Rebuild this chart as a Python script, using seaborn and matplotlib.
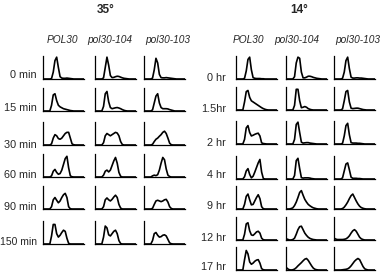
import numpy as np
import pandas as pd
import matplotlib
matplotlib.use("Agg")
import matplotlib.pyplot as plt
import seaborn as sns

sns.set_theme(style="white")
plt.rcParams['font.family'] = ['Liberation Sans', 'DejaVu Sans']

# ---------------- data ----------------
strains = ["POL30", "pol30-104", "pol30-103"]
channels = list(range(25))  # DNA content channel (binned)

times_35 = ["0 min", "15 min", "30 min", "60 min", "90 min", "150 min"]
times_14 = ["0 hr", "1.5hr", "2 hr", "4 hr", "9 hr", "12 hr", "17 hr"]

# 35 degrees: each row = [POL30, pol30-104, pol30-103]
h35_0min = [
    [0,0,0,0,0,0.02,0.3,0.8,0.95,0.5,0.1,0.04,0.03,0.03,0.04,0.03,0.02,0.01,0,0,0,0,0,0,0],
    [0,0,0,0,0,0.05,0.5,0.95,0.6,0.15,0.06,0.07,0.1,0.12,0.11,0.08,0.05,0.03,0.02,0.01,0,0,0,0,0],
    [0,0,0,0,0,0.04,0.4,0.9,0.7,0.2,0.06,0.05,0.05,0.06,0.05,0.04,0.03,0.02,0.01,0,0,0,0,0,0],
]
h35_15min = [
    [0,0,0,0,0,0.25,0.7,0.75,0.45,0.25,0.18,0.14,0.1,0.08,0.06,0.04,0.02,0.01,0,0,0,0,0,0,0],
    [0,0,0,0,0,0.2,0.75,0.85,0.4,0.15,0.1,0.12,0.14,0.15,0.13,0.1,0.06,0.03,0.01,0,0,0,0,0,0],
    [0,0,0,0,0,0.05,0.35,0.65,0.75,0.35,0.15,0.1,0.1,0.1,0.09,0.06,0.04,0.02,0,0,0,0,0,0,0],
]
h35_30min = [
    [0,0,0,0,0,0.05,0.3,0.45,0.4,0.28,0.25,0.3,0.4,0.5,0.55,0.55,0.3,0.05,0.01,0,0,0,0,0,0],
    [0,0,0,0,0,0.1,0.4,0.5,0.45,0.4,0.45,0.5,0.55,0.52,0.4,0.15,0.02,0,0,0,0,0,0,0,0],
    [0,0,0,0,0,0.03,0.15,0.25,0.3,0.38,0.45,0.55,0.6,0.5,0.3,0.08,0.01,0,0,0,0,0,0,0,0],
]
h35_60min = [
    [0,0,0,0,0,0.05,0.25,0.33,0.2,0.12,0.15,0.3,0.55,0.8,0.9,0.4,0.05,0.01,0,0,0,0,0,0,0],
    [0,0,0,0,0,0.08,0.25,0.3,0.22,0.3,0.5,0.7,0.85,0.6,0.2,0.03,0,0,0,0,0,0,0,0,0],
    [0,0,0,0,0,0.05,0.08,0.06,0.1,0.3,0.6,0.85,0.75,0.35,0.08,0.02,0,0,0,0,0,0,0,0,0],
]
h35_90min = [
    [0,0,0,0,0,0.1,0.4,0.5,0.38,0.27,0.35,0.5,0.62,0.68,0.5,0.1,0.01,0,0,0,0,0,0,0,0],
    [0,0,0,0,0,0.1,0.4,0.48,0.4,0.35,0.42,0.52,0.6,0.5,0.2,0.04,0,0,0,0,0,0,0,0,0],
    [0,0,0,0,0,0.03,0.2,0.35,0.38,0.35,0.32,0.35,0.4,0.42,0.3,0.1,0.02,0,0,0,0,0,0,0,0],
]
h35_150min = [
    [0,0,0,0,0,0.35,0.85,0.85,0.45,0.3,0.38,0.5,0.6,0.55,0.25,0.03,0,0,0,0,0,0,0,0,0],
    [0,0,0,0,0,0.3,0.78,0.7,0.4,0.35,0.45,0.55,0.6,0.45,0.15,0.02,0,0,0,0,0,0,0,0,0],
    [0,0,0,0,0,0.15,0.45,0.5,0.38,0.3,0.32,0.38,0.4,0.35,0.2,0.05,0.01,0,0,0,0,0,0,0,0],
]

# 14 degrees
h14_0hr = [
    [0,0,0,0,0,0.03,0.35,0.85,0.95,0.4,0.06,0.03,0.02,0.02,0.02,0.01,0.01,0,0,0,0,0,0,0,0],
    [0,0,0,0,0,0.1,0.7,0.95,0.9,0.3,0.05,0.05,0.08,0.12,0.12,0.1,0.07,0.05,0.03,0.02,0.01,0,0,0,0],
    [0,0,0,0,0,0.03,0.3,0.8,0.95,0.45,0.08,0.04,0.04,0.05,0.05,0.04,0.04,0.03,0.02,0.01,0,0,0,0,0],
]
h14_15hr = [
    [0,0,0,0,0,0.35,0.8,0.85,0.55,0.4,0.35,0.3,0.25,0.2,0.15,0.1,0.06,0.03,0.01,0,0,0,0,0,0],
    [0,0,0,0,0,0.2,0.9,0.9,0.4,0.1,0.12,0.15,0.12,0.06,0.03,0.01,0,0,0,0,0,0,0,0,0],
    [0,0,0,0,0,0.05,0.4,0.8,0.85,0.35,0.08,0.06,0.07,0.08,0.08,0.06,0.04,0.02,0.01,0,0,0,0,0,0],
]
h14_2hr = [
    [0,0,0,0,0,0.2,0.7,0.8,0.5,0.35,0.38,0.42,0.45,0.47,0.35,0.05,0.02,0.01,0,0,0,0,0,0,0],
    [0,0,0,0,0,0.2,0.85,0.95,0.5,0.08,0.04,0.05,0.06,0.06,0.04,0.03,0.02,0.01,0,0,0,0,0,0,0],
    [0,0,0,0,0,0.03,0.35,0.8,0.9,0.4,0.06,0.04,0.04,0.04,0.03,0.03,0.02,0.01,0,0,0,0,0,0,0],
]
h14_4hr = [
    [0,0,0,0,0,0.1,0.35,0.45,0.2,0.05,0.12,0.3,0.5,0.7,0.85,0.3,0.02,0,0,0,0,0,0,0,0],
    [0,0,0,0,0,0.15,0.8,0.9,0.45,0.06,0.04,0.05,0.05,0.05,0.04,0.02,0.01,0,0,0,0,0,0,0,0],
    [0,0,0,0,0,0.05,0.35,0.65,0.7,0.4,0.08,0.03,0.03,0.03,0.02,0.02,0.01,0,0,0,0,0,0,0,0],
]
h14_9hr = [
    [0,0,0,0,0,0.2,0.55,0.65,0.4,0.18,0.2,0.35,0.5,0.62,0.45,0.1,0.01,0,0,0,0,0,0,0,0],
    [0,0,0,0.02,0.05,0.15,0.3,0.5,0.72,0.8,0.6,0.42,0.3,0.2,0.14,0.09,0.05,0.03,0.01,0,0,0,0,0,0],
    [0,0,0,0,0,0.02,0.08,0.18,0.3,0.45,0.58,0.65,0.5,0.35,0.22,0.12,0.06,0.03,0.01,0,0,0,0,0,0],
]
h14_12hr = [
    [0,0,0,0,0,0.25,0.7,0.75,0.4,0.22,0.2,0.27,0.35,0.38,0.3,0.08,0.01,0,0,0,0,0,0,0,0],
    [0.05,0.03,0,0,0.02,0.08,0.25,0.45,0.58,0.6,0.45,0.3,0.2,0.12,0.07,0.04,0.02,0.01,0,0,0,0,0,0,0],
    [0.08,0.04,0.02,0.02,0.02,0.02,0.03,0.05,0.1,0.18,0.3,0.4,0.45,0.38,0.25,0.12,0.05,0.02,0,0,0,0,0,0,0],
]
h14_17hr = [
    [0,0,0,0,0,0.45,0.85,0.7,0.35,0.25,0.3,0.38,0.43,0.45,0.3,0.06,0.01,0,0,0,0,0,0,0,0],
    [0.12,0.05,0.01,0,0.01,0.04,0.1,0.18,0.25,0.32,0.4,0.47,0.5,0.42,0.3,0.18,0.08,0.03,0.01,0,0,0,0,0,0],
    [0,0,0,0,0,0.01,0.02,0.03,0.05,0.1,0.18,0.28,0.38,0.45,0.5,0.45,0.3,0.15,0.05,0.02,0,0,0,0,0],
]

rows_35 = [h35_0min, h35_15min, h35_30min, h35_60min, h35_90min, h35_150min]
rows_14 = [h14_0hr, h14_15hr, h14_2hr, h14_4hr, h14_9hr, h14_12hr, h14_17hr]

# ---------------- layout (pixels) ----------------
W, H = 380, 273
fig = plt.figure(figsize=(W / 100, H / 100), dpi=100)

cols_35 = [43, 95, 144]
cols_14 = [236, 286, 334]
axw = 41
base_35 = [79, 111, 145, 177, 209, 244]
base_14 = [79, 110, 144, 179, 209, 240, 270]
axh = 23
lab_y_35 = [75, 108, 145, 175, 207, 242]
lab_y_14 = [78, 109, 143, 175, 206, 238, 267]


def draw_panel(rows, cols, bases):
    for r, row in enumerate(rows):
        for c, vals in enumerate(row):
            ax = fig.add_axes([cols[c] / W, 1 - bases[r] / H, axw / W, axh / H])
            df = pd.DataFrame({"channel": channels, "count": vals})
            sns.lineplot(data=df, x="channel", y="count", ax=ax,
                         color="black", linewidth=1.2)
            ax.set_xlim(0, 24)
            ax.set_ylim(0, 1.0)
            ax.set_xticks([])
            ax.set_yticks([])
            ax.set_xlabel("")
            ax.set_ylabel("")
            ax.patch.set_alpha(0)
            for s in ["top", "right"]:
                ax.spines[s].set_visible(False)
            for s in ["left", "bottom"]:
                ax.spines[s].set_color("black")
                ax.spines[s].set_linewidth(0.9)


draw_panel(rows_35, cols_35, base_35)
draw_panel(rows_14, cols_14, base_14)


def ftext(x, y, s, **kw):
    fig.text(x / W, 1 - y / H, s, **kw)


# titles
ftext(106, 10, "35°", ha="center", va="center", fontsize=8.5, fontweight="bold")
ftext(299, 10, "14°", ha="center", va="center", fontsize=8.5, fontweight="bold")

# column headers
for cx, s in zip([62, 110, 168], strains):
    ftext(cx, 40, s, ha="center", va="center", fontsize=7.3, style="italic")
for cx, s in zip([248, 297, 358], strains):
    ftext(cx, 40, s, ha="center", va="center", fontsize=7.3, style="italic")

# row labels
for y, s in zip(lab_y_35, times_35):
    ftext(37, y, s, ha="right", va="center",
          fontsize=7.8 if s != "150 min" else 7.5)
for y, s in zip(lab_y_14, times_14):
    ftext(226, y, s, ha="right", va="center", fontsize=7.8)

fig.savefig("out.png", dpi=100, facecolor="white")
